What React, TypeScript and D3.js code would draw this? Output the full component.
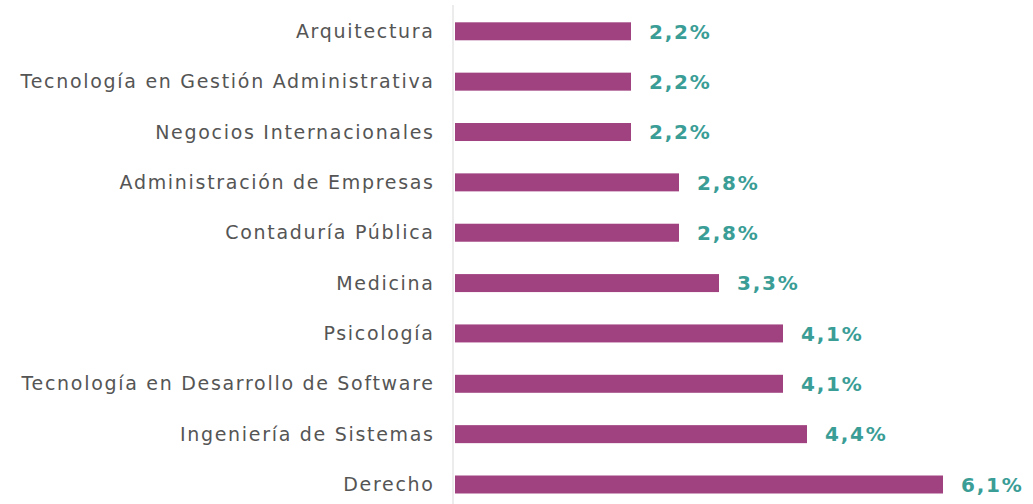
import React from "react";
import * as d3 from "d3";

const categories = [
  "Arquitectura",
  "Tecnología en Gestión Administrativa",
  "Negocios Internacionales",
  "Administración de Empresas",
  "Contaduría Pública",
  "Medicina",
  "Psicología",
  "Tecnología en Desarrollo de Software",
  "Ingeniería de Sistemas",
  "Derecho",
];
const values = [2.2, 2.2, 2.2, 2.8, 2.8, 3.3, 4.1, 4.1, 4.4, 6.1];
const valueLabels = ["2,2%", "2,2%", "2,2%", "2,8%", "2,8%", "3,3%", "4,1%", "4,1%", "4,4%", "6,1%"];

const W = 1033;
const H = 504;
const x0 = 455;
const BAR_COLOR = "#a04280";
const VALUE_COLOR = "#3a9d96";
const LABEL_COLOR = "#555555";

export default function App() {
  const x = d3.scaleLinear().domain([0, 6.1]).range([x0, 943]);
  const y = d3.scalePoint<string>().domain(categories).range([31.3, 484.5]);
  const barH = 18;
  return (
    <div style={{ position: "absolute", left: 0, top: 0 }}>
      <svg width={W} height={H} style={{ display: "block", background: "#fff" }}>
        <line x1={453} x2={453} y1={5} y2={H} stroke="#e6e6e6" strokeWidth={1.5} />
        {categories.map((c, i) => {
          const cy = y(c) as number;
          return (
            <g key={c}>
              <text
                x={434.7}
                y={cy}
                dy="0.35em"
                textAnchor="end"
                fill={LABEL_COLOR}
                style={{ fontFamily: "'DejaVu Sans', sans-serif", fontSize: 19, letterSpacing: 1.7 }}
              >
                {c}
              </text>
              <rect x={x(0)} y={cy - barH / 2} width={x(values[i]) - x(0)} height={barH} fill={BAR_COLOR} />
              <text
                x={x(values[i]) + 18}
                y={cy}
                dy="0.36em"
                fill={VALUE_COLOR}
                style={{ fontFamily: "'DejaVu Sans', sans-serif", fontSize: 20, fontWeight: 700, letterSpacing: 1.8 }}
              >
                {valueLabels[i]}
              </text>
            </g>
          );
        })}
      </svg>
    </div>
  );
}
